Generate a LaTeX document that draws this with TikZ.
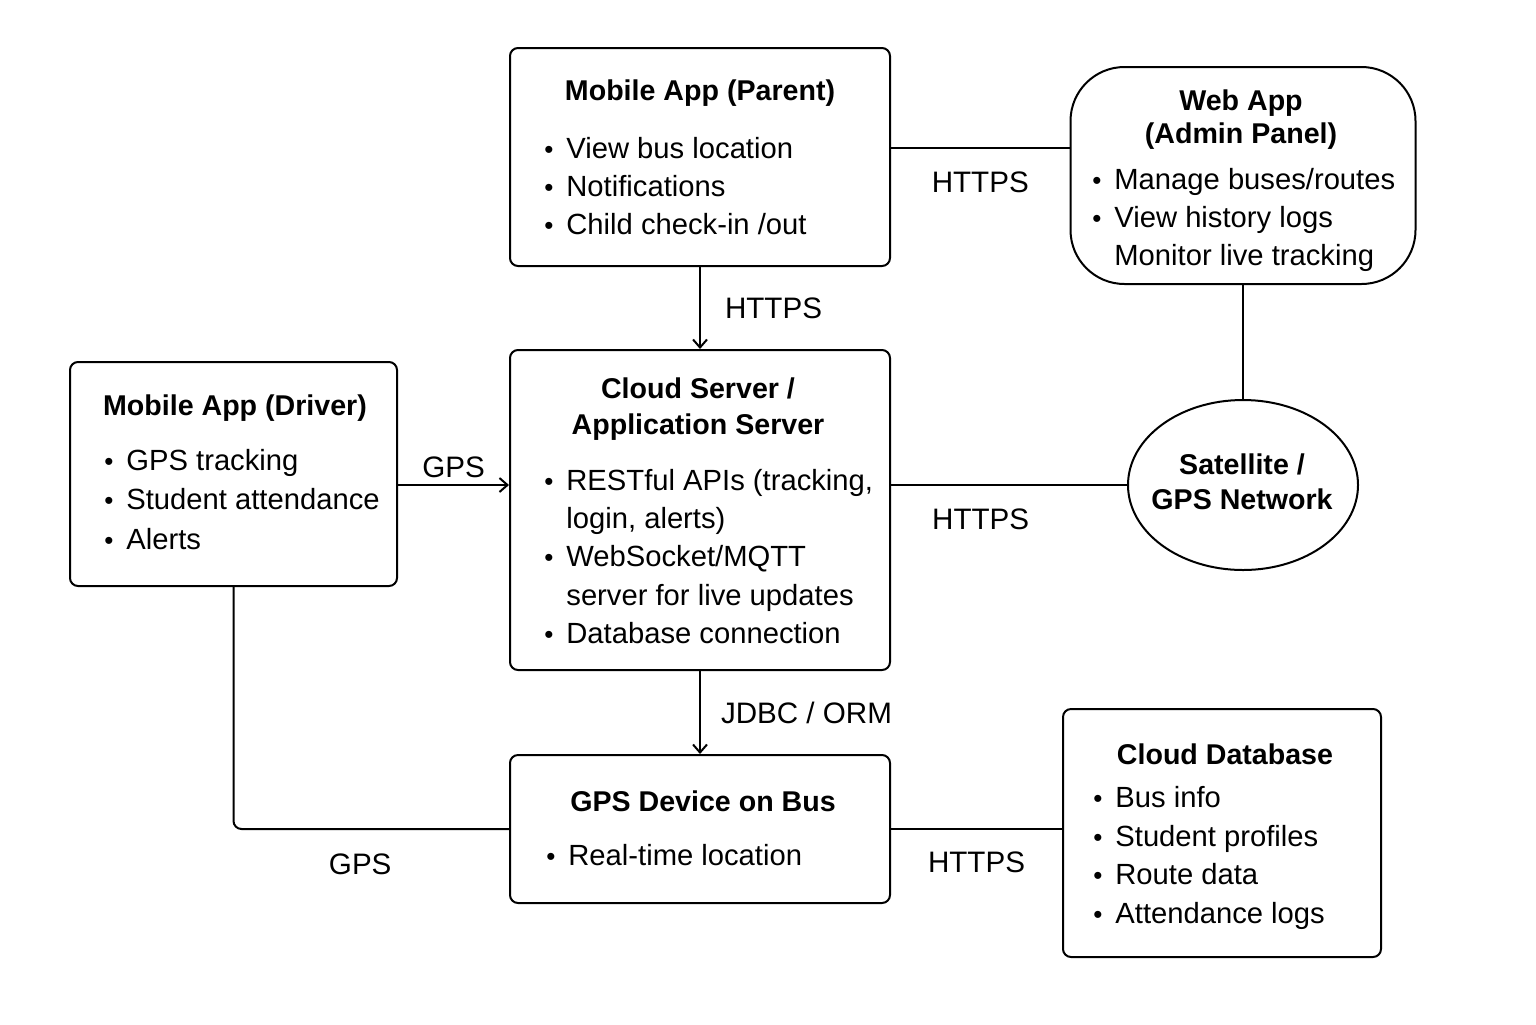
\documentclass[tikz,border=0pt]{standalone}
\usepackage{fontspec}
\setmainfont{Liberation Sans}
\usetikzlibrary{positioning,shapes.geometric,arrows.meta}

\newcommand{\itm}{\makebox[11pt][l]{\raisebox{0pt}{\fontsize{13}{13}\selectfont\textbullet}}}
\newcommand{\noitm}{\makebox[11pt][l]{}}

\tikzset{
  box/.style={draw,line width=1pt,rounded corners=4pt,inner sep=0pt},
  ttl/.style={font=\fontsize{14.3}{18}\selectfont\bfseries,align=center,inner sep=0pt},
  lst/.style={font=\fontsize{14.6}{19.2}\selectfont,align=left,inner sep=0pt,anchor=west},
  lbl/.style={font=\fontsize{14.8}{18}\selectfont,inner sep=0pt},
  link/.style={line width=1pt},
  arr/.style={line width=1pt,-{Straight Barb[length=4pt,width=7pt]}},
}

\begin{document}
\begin{tikzpicture}[x=0.5pt,y=-0.5pt]
        \useasboundingbox (0,0) rectangle (1536,1024);

        % boxes
        \begin{scope}[every node/.style={box}]
          \node[minimum width=190pt,minimum height=109pt] (parent) at (700,157) {};
          \node[minimum width=172.5pt,minimum height=108.5pt,rounded corners=27pt] (web) at (1243,175.5) {};
          \node[minimum width=163.5pt,minimum height=112pt] (driver) at (233.5,474) {};
          \node[minimum width=190pt,minimum height=160pt] (cloud) at (700,510) {};
          \node[ellipse,minimum width=115pt,minimum height=85pt] (sat) at (1243,485) {};
          \node[minimum width=190pt,minimum height=74pt] (gps) at (700,829) {};
          \node[minimum width=159pt,minimum height=124pt] (db) at (1222,833) {};
        \end{scope}

        % titles
        \begin{scope}[every node/.style={ttl}]
          \node (ttlparent) at (700,93) {Mobile App (Parent)};
          \node[font=\fontsize{14.3}{16.5}\selectfont\bfseries] (ttlweb) at (1241,119.5) {Web App\\(Admin Panel)};
          \node (ttldriver) at (235,408) {Mobile App (Driver)};
          \node (ttlcloud) at (698,409) {Cloud Server /\\Application Server};
          \node[font=\fontsize{14.3}{17.5}\selectfont\bfseries] (ttlsat) at (1242,482) {Satellite /\\GPS Network};
          \node (ttlgps) at (703,801) {GPS Device on Bus};
          \node (ttldb) at (1225,754) {Cloud Database};
        \end{scope}

        % item lists
        \begin{scope}[every node/.style={lst}]
          \node (lstparent) at (544,186) {\itm View bus location\\\itm Notifications\\\itm Child check-in /out};
          \node (lstweb) at (1092,220) {\itm Manage buses/routes\\\itm View history logs\\\noitm Monitor live tracking};
          \node[font=\fontsize{14.6}{19.7}\selectfont] (lstdriver) at (104,499.5) {\itm GPS tracking\\\itm Student attendance\\\itm Alerts};
          \node (lstcloud) at (544,556.5) {\itm RESTful APIs (tracking,\\\noitm login, alerts)\\\itm WebSocket/MQTT\\\noitm server for live updates\\\itm Database connection};
          \node (lstgps) at (546,855) {\itm Real-time location};
          \node (lstdb) at (1093,858) {\itm Bus info\\\itm Student profiles\\\itm Route data\\\itm Attendance logs};
        \end{scope}

        % connectors
        \coordinate (pw) at ([yshift=4.5pt]parent.east);
        \coordinate (dc) at (driver.east |- sat.west);
        \draw[link] (pw) -- (pw -| web.west) node[lbl,midway,below=11.5pt] {HTTPS};
        \draw[arr] (parent) -- (cloud) node[lbl,midway,right=12pt] {HTTPS};
        \draw[link] (web.south) -- (sat.north);
        \draw[arr] (dc) -- (dc -| cloud.west) node[lbl,midway,above=3pt] {GPS};
        \draw[link] (cloud.east |- sat.west) -- (sat.west) node[lbl,pos=0.38,below=11.5pt] {HTTPS};
        \draw[arr] (cloud) -- (gps) node[lbl,midway,right=10pt] {JDBC / ORM};
        \draw[link,rounded corners=4pt] (driver.south) |- (gps.west) node[lbl,pos=0.73,below=12pt] {GPS};
        \draw[link] (gps.east) -- (gps.east -| db.west) node[lbl,midway,below=11pt] {HTTPS};

      \end{tikzpicture}
\end{document}
